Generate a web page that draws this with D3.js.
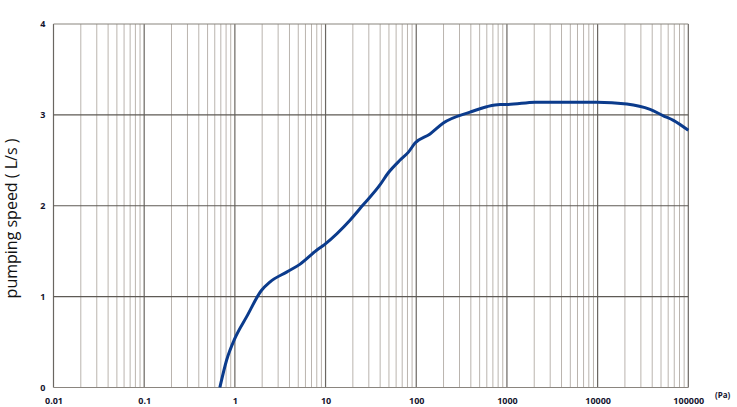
<!DOCTYPE html>
<html><head><meta charset="utf-8">
<script src="https://cdn.jsdelivr.net/npm/d3@7"></script>
<style>body{margin:0;background:#fff}svg{display:block}</style>
</head><body>
<script>
const pressure = [0.683, 0.81, 1.0, 1.35, 1.97, 2.43, 3.72, 5.2, 7.97, 9.8, 18.6, 26, 39.8, 49, 66, 82, 97, 142, 199, 392, 598, 839, 1030, 2040, 9800, 21000, 37900, 53100, 68500, 100000];
const speed    = [0.0,   0.30, 0.54, 0.78, 1.07, 1.16, 1.27, 1.355, 1.51, 1.575, 1.84, 2.01, 2.23, 2.36, 2.50, 2.59, 2.69, 2.79, 2.91, 3.03, 3.09, 3.115, 3.115, 3.14, 3.14, 3.12, 3.06, 2.99, 2.94, 2.83];
const xTickValues = [0.01, 0.1, 1, 10, 100, 1000, 10000, 100000];
const xTickLabels = ["0.01", "0.1", "1", "10", "100", "1000", "10000", "100000"];
const yTickValues = [0, 1, 2, 3, 4];
const yTitle = "pumping speed ( L/s )";
const xUnit = "(Pa)";

const W = 737, H = 407;
const L = 53.5, R = 688.3, T = 24, B = 387.5;
const svg = d3.select("body").append("svg").attr("width", W).attr("height", H);
const x = d3.scaleLog().domain([0.01, 100000]).range([L, R]);
const y = d3.scaleLinear().domain([0, 4]).range([B, T]);

// minor vertical grid
const minors = [];
for (let e = -2; e < 5; e++) for (let m = 2; m <= 9; m++) minors.push(m * Math.pow(10, e));
svg.append("g").selectAll("line").data(minors).join("line")
  .attr("x1", d => x(d)).attr("x2", d => x(d)).attr("y1", T).attr("y2", B)
  .attr("stroke", "#bab4ae").attr("stroke-width", 1);
// major vertical grid
svg.append("g").selectAll("line").data(xTickValues).join("line")
  .attr("x1", d => x(d)).attr("x2", d => x(d)).attr("y1", T).attr("y2", B)
  .attr("stroke", "#6a6661").attr("stroke-width", 1.2);
// horizontal grid
svg.append("g").selectAll("line").data(yTickValues).join("line")
  .attr("x1", L).attr("x2", R).attr("y1", d => y(d)).attr("y2", d => y(d))
  .attr("stroke", d => (d === 4 || d === 0) ? "#8a857f" : "#5e5a55").attr("stroke-width", 1.2);

// axes labels via d3 axes
const xAxis = d3.axisBottom(x).tickValues(xTickValues).tickFormat((d, i) => xTickLabels[i]).tickSize(0).tickPadding(10);
const gx = svg.append("g").attr("transform", `translate(0,${B})`).call(xAxis);
gx.select(".domain").remove();
gx.selectAll("text").attr("font-family", "'Open Sans', sans-serif").attr("font-weight", "bold").attr("font-size", 9).attr("fill", "#14142e");

const yAxis = d3.axisLeft(y).tickValues(yTickValues).tickFormat(d3.format("d")).tickSize(0).tickPadding(8);
const gy = svg.append("g").attr("transform", `translate(${L},0)`).call(yAxis);
gy.select(".domain").remove();
gy.selectAll("text").attr("font-family", "'Open Sans', sans-serif").attr("font-weight", "bold").attr("font-size", 9).attr("fill", "#14142e");

svg.append("text").attr("x", 715).attr("y", 398).text(xUnit)
  .attr("font-family", "'Open Sans', sans-serif").attr("font-weight", "bold").attr("font-size", 8).attr("fill", "#14142e");

svg.append("text").attr("transform", `translate(17,218.5) rotate(-90)`).attr("text-anchor", "middle")
  .text(yTitle).attr("font-family", "'Open Sans', sans-serif").attr("font-size", 16).attr("fill", "#111");

// curve
const line = d3.line().x((d, i) => x(pressure[i])).y((d, i) => y(speed[i])).curve(d3.curveMonotoneX);
svg.append("path").datum(speed).attr("d", line).attr("fill", "none")
  .attr("stroke", "#0b3b8c").attr("stroke-width", 3).attr("stroke-linejoin", "round");
</script>
</body></html>
